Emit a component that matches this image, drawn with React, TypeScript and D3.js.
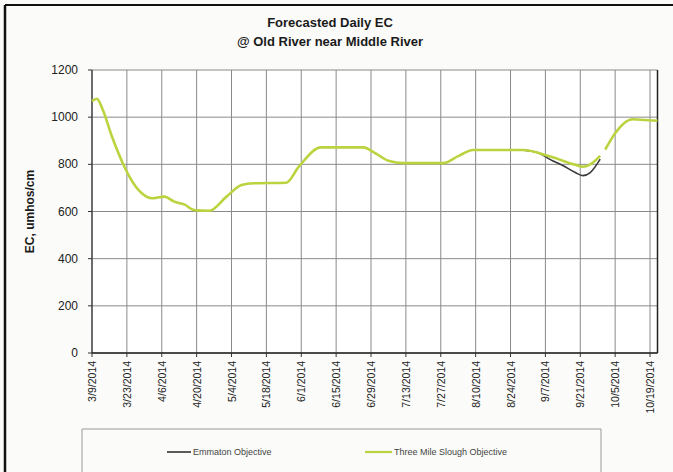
import React from "react";
import * as d3 from "d3";

const titleLines = ["Forecasted Daily EC", "@ Old River near Middle River"];
const yTitle = "EC, umhos/cm";
const yTicks = [0, 200, 400, 600, 800, 1000, 1200];
const xTickDates = [
  "2014-03-09", "2014-03-23", "2014-04-06", "2014-04-20", "2014-05-04", "2014-05-18",
  "2014-06-01", "2014-06-15", "2014-06-29", "2014-07-13", "2014-07-27", "2014-08-10",
  "2014-08-24", "2014-09-07", "2014-09-21", "2014-10-05", "2014-10-19",
];
const seriesNames = ["Emmaton Objective", "Three Mile Slough Objective"];

// Three Mile Slough Objective (null = gap)
const tmsDates = [
  "2014-03-09", "2014-03-11", "2014-03-13", "2014-03-17", "2014-03-22", "2014-03-24",
  "2014-03-29", "2014-04-02", "2014-04-07", "2014-04-11", "2014-04-15", "2014-04-19",
  "2014-04-25", "2014-05-02", "2014-05-08", "2014-05-13", "2014-05-26", "2014-05-31",
  "2014-06-09", "2014-06-26", "2014-06-30", "2014-07-06", "2014-07-12", "2014-07-28",
  "2014-08-03", "2014-08-09", "2014-08-29", "2014-09-09", "2014-09-19", "2014-09-22",
  "2014-09-25", "2014-09-29", "2014-09-30", "2014-10-01", "2014-10-05", "2014-10-12",
  "2014-10-17", "2014-10-22",
];
const tmsValues = [
  1068, 1078, 1040, 918, 790, 748,
  677, 656, 663, 642, 630, 606,
  603, 663, 712, 720, 722, 790,
  872, 872, 852, 815, 805, 805,
  835, 861, 861, 833, 798, 790,
  800, 836, null, 862, 932, 991,
  988, 985,
];

// Emmaton Objective (visible where it departs from the green line)
const emmDates = [
  "2014-08-27", "2014-08-31", "2014-09-05", "2014-09-09", "2014-09-14", "2014-09-19",
  "2014-09-22", "2014-09-25", "2014-09-29",
];
const emmValues = [861, 858, 845, 820, 795, 765, 752, 765, 822];

const W = 673;
const H = 472;
const M = { left: 92, top: 70, right: 657.5, bottom: 353 };

export default function App() {
  const parse = d3.timeParse("%Y-%m-%d");
  const x = d3
    .scaleTime()
    .domain([parse("2014-03-09")!, parse("2014-10-22")!])
    .range([M.left, M.right]);
  const y = d3.scaleLinear().domain([0, 1200]).range([M.bottom, M.top]);
  const fmt = d3.timeFormat("%-m/%-d/%Y");

  const line = d3
    .line<[Date, number | null]>()
    .defined((d) => d[1] !== null)
    .x((d) => x(d[0]))
    .y((d) => y(d[1] as number))
    .curve(d3.curveMonotoneX);

  const tms = tmsDates.map((d, i) => [parse(d)!, tmsValues[i]] as [Date, number | null]);
  const emm = emmDates.map((d, i) => [parse(d)!, emmValues[i]] as [Date, number | null]);
  const xt = xTickDates.map((d) => parse(d)!);

  const font = "Arial, 'Liberation Sans', sans-serif";
  const green = "#b9d43f";

  return (
    <svg
      width={W}
      height={H}
      style={{ position: "absolute", left: 0, top: 0, background: "#fbfbf9" }}
      fontFamily={font}
    >
      {/* outer frame */}
      <line x1={5} x2={W} y1={5} y2={5} stroke="#111" strokeWidth={2} />
      <line x1={5} x2={5} y1={5} y2={H} stroke="#111" strokeWidth={2.5} />

      {/* title */}
      {titleLines.map((t, i) => (
        <text
          key={i}
          x={330}
          y={27 + i * 19}
          textAnchor="middle"
          fontSize={13}
          fontWeight="bold"
          fill="#1a1a1a"
        >
          {t}
        </text>
      ))}

      {/* plot bg */}
      <rect x={M.left} y={M.top} width={M.right - M.left} height={M.bottom - M.top} fill="#ffffff" />

      {/* grid */}
      {yTicks.map((v) => (
        <line key={"gy" + v} x1={M.left} x2={M.right} y1={y(v)} y2={y(v)} stroke="#8a8a8a" strokeWidth={1} />
      ))}
      {xt.map((d, i) => (
        <line key={"gx" + i} x1={x(d)} x2={x(d)} y1={M.top} y2={M.bottom} stroke="#8a8a8a" strokeWidth={1} />
      ))}

      {/* axes */}
      <line x1={M.left} x2={M.left} y1={M.top} y2={M.bottom} stroke="#333" strokeWidth={1.2} />
      <line x1={M.right} x2={M.right} y1={M.top} y2={M.bottom} stroke="#222" strokeWidth={1.5} />
      <line x1={M.left} x2={M.right} y1={M.bottom} y2={M.bottom} stroke="#222" strokeWidth={1.5} />
      {yTicks.map((v) => (
        <g key={"yt" + v}>
          <line x1={M.left - 4} x2={M.left} y1={y(v)} y2={y(v)} stroke="#333" />
          <text x={78} y={y(v) + 4} textAnchor="end" fontSize={12} fill="#222">
            {v}
          </text>
        </g>
      ))}
      {xt.map((d, i) => (
        <g key={"xt" + i}>
          <line x1={x(d)} x2={x(d)} y1={M.bottom} y2={M.bottom + 4} stroke="#333" />
          <text
            transform={`translate(${x(d) + 4},${M.bottom + 8}) rotate(-90)`}
            textAnchor="end"
            fontSize={10.5}
            fill="#222"
          >
            {fmt(d)}
          </text>
        </g>
      ))}

      <text
        transform={`translate(${34},${(M.top + M.bottom) / 2}) rotate(-90)`}
        textAnchor="middle"
        fontSize={12}
        fontWeight="bold"
        fill="#1a1a1a"
      >
        {yTitle}
      </text>

      {/* series */}
      <path d={line(emm) || ""} fill="none" stroke="#3a3a3a" strokeWidth={1.6} />
      <path d={line(tms) || ""} fill="none" stroke={green} strokeWidth={2.6} strokeLinejoin="round" />

      {/* legend */}
      <path d={`M82,${H} V429 H601 V${H}`} fill="none" stroke="#9a9a9a" strokeWidth={1} />
      <line x1={167} x2={191} y1={452} y2={452} stroke="#333" strokeWidth={1.6} />
      <text x={193} y={455} fontSize={9} fill="#444">
        {seriesNames[0]}
      </text>
      <line x1={365} x2={392} y1={452} y2={452} stroke={green} strokeWidth={2.2} />
      <text x={394} y={455} fontSize={9} fill="#444">
        {seriesNames[1]}
      </text>
    </svg>
  );
}
